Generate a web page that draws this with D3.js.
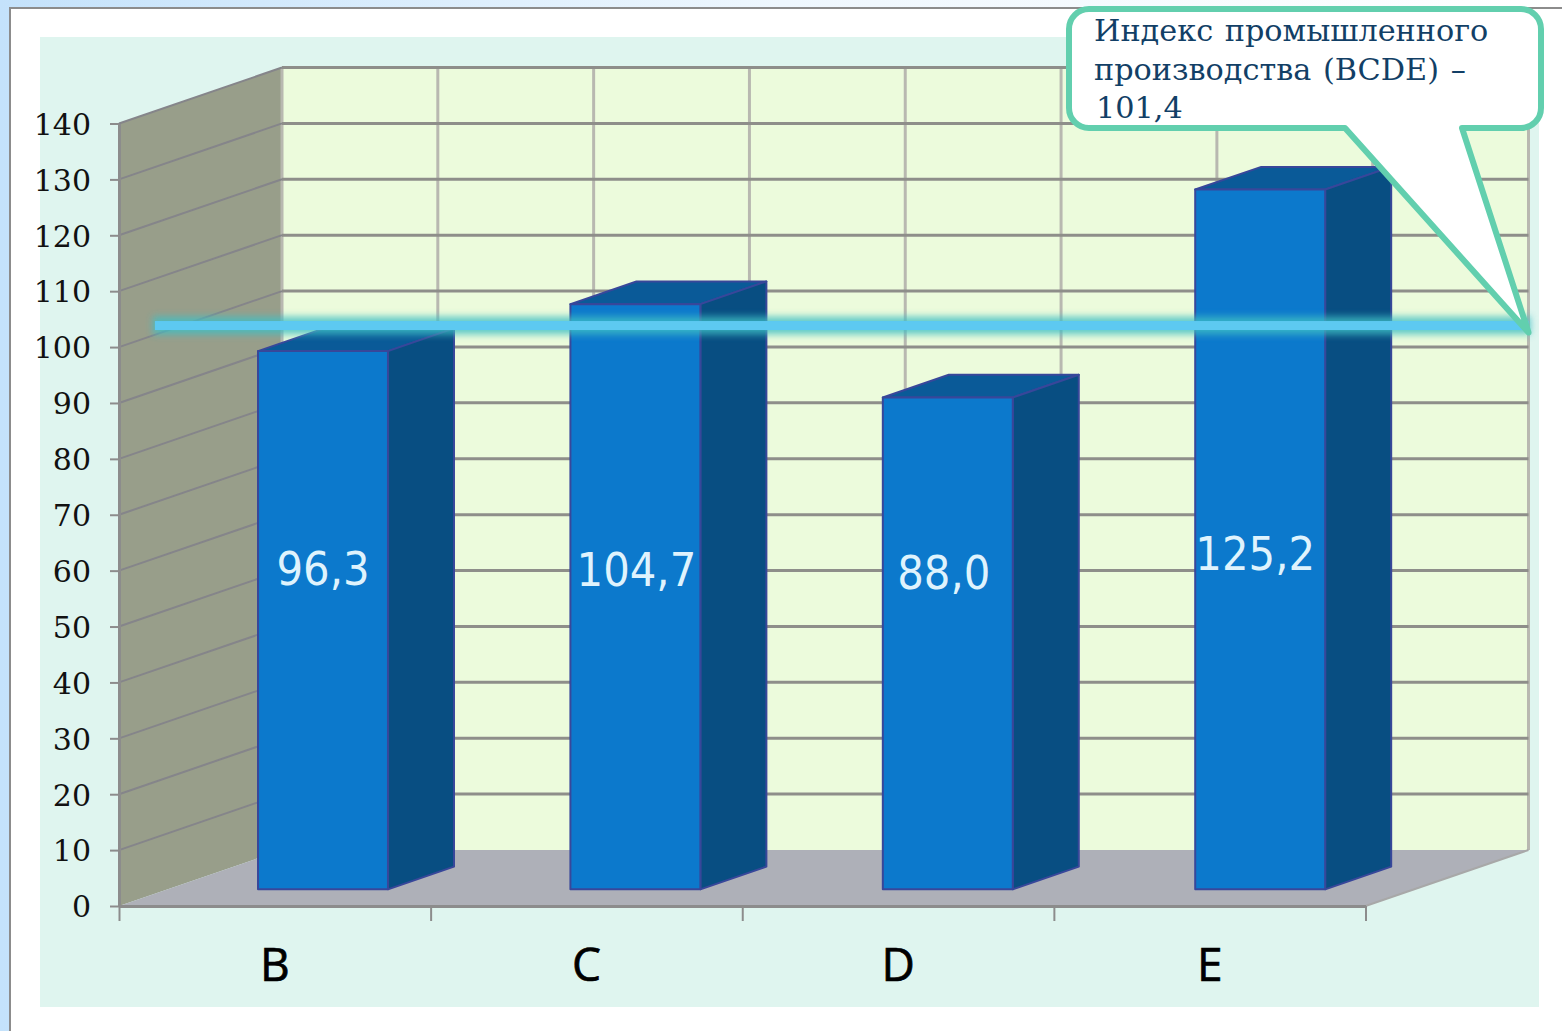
<!DOCTYPE html>
<html>
<head>
<meta charset="utf-8">
<script src="https://cdn.jsdelivr.net/npm/d3@7"></script>
<style>
html, body { margin: 0; padding: 0; background: #fff; }
svg { display: block; }
</style>
</head>
<body>
<svg class="main"></svg>
<script>
var categories = ["B", "C", "D", "E"];
var values = [96.3, 104.7, 88.0, 125.2];
var valueLabels = ["96,3", "104,7", "88,0", "125,2"];
var yTicks = [0, 10, 20, 30, 40, 50, 60, 70, 80, 90, 100, 110, 120, 130, 140];
var indexValue = 101.4;
var calloutLines = ["Индекс промышленного", "производства (BCDE) –", "101,4"];

var width = 1562,
    height = 1031,
    depthX = 163,
    depthY = 56,
    barZ0 = 0.2975,
    barZ1 = 0.7025,
    lineZ = 0.245;

// hand placed in the original, not tied to the bar height
var labelCenterY = [568, 569, 572, 553],
    labelShiftX = [0, 1, -4, -5],
    calloutShiftX = [0, 0, 2];

var main = d3.select(".main")
    .attr("width", width)
    .attr("height", height);

var defs = main.append("defs");

var bgGrad = defs.append("linearGradient")
    .attr("id", "bg")
    .attr("x1", 0).attr("y1", 0).attr("x2", 1).attr("y2", 0);
bgGrad.append("stop").attr("offset", "0").attr("stop-color", "#c4e2fb");
bgGrad.append("stop").attr("offset", "0.5").attr("stop-color", "#eef7fe");
bgGrad.append("stop").attr("offset", "1").attr("stop-color", "#ffffff");

defs.append("filter")
    .attr("id", "glow")
    .attr("x", "-2%").attr("y", "-300%").attr("width", "104%").attr("height", "700%")
    .append("feGaussianBlur")
    .attr("stdDeviation", 3.5);

var y = d3.scaleLinear().domain([0, 140]).range([906, 123.5]);
var x = d3.scaleBand()
    .domain(categories)
    .range([119, 1365.5])
    .paddingInner(0.58)
    .paddingOuter(0.29);
// bars sit on a slightly wider step than the axis in the original
var xBar = d3.scaleBand()
    .domain(categories)
    .range([118.3, 1367.9])
    .paddingInner(0.584)
    .paddingOuter(0.292);
var xEdge = d3.scaleLinear().domain([0, categories.length]).range([119, 1365.5]);

// 3d projection: z 0 is the front of the floor, z 1 the back wall
function px(xv, z) { return xv + z * depthX; }
function py(v, z) { return y(v) - z * depthY; }
function pt(xv, v, z) { return px(xv, z) + "," + py(v, z); }

// page
main.append("rect").attr("width", width).attr("height", height).attr("fill", "url(#bg)");
main.append("rect")
    .attr("x", 10).attr("y", 8)
    .attr("width", width).attr("height", height)
    .attr("fill", "#fff")
    .attr("stroke", "#8c8c8c")
    .attr("stroke-width", 2);
main.append("rect")
    .attr("x", 40).attr("y", 37)
    .attr("width", 1499).attr("height", 970)
    .attr("fill", "#dff5ef");

var x0 = xEdge(0), x1 = xEdge(categories.length), yMax = 140;

// back wall, side wall, floor
main.append("polygon")
    .attr("points", [pt(x0, 0, 1), pt(x1, 0, 1), pt(x1, yMax, 1), pt(x0, yMax, 1)].join(" "))
    .attr("fill", "#ecfbdc");
main.append("polygon")
    .attr("points", [pt(x0, 0, 0), pt(x0, 0, 1), pt(x0, yMax, 1), pt(x0, yMax, 0)].join(" "))
    .attr("fill", "#989e8a");
main.append("polygon")
    .attr("points", [pt(x0, 0, 0), pt(x1, 0, 0), pt(x1, 0, 1), pt(x0, 0, 1)].join(" "))
    .attr("fill", "#aeb0b8");

// gridlines
var grid = main.append("g").attr("fill", "none");
grid.selectAll("line.v")
    .data(d3.range(0, categories.length + 0.5, 0.5))
    .join("line")
    .attr("class", "v")
    .attr("x1", function(d) { return px(xEdge(d), 1); })
    .attr("x2", function(d) { return px(xEdge(d), 1); })
    .attr("y1", py(0, 1))
    .attr("y2", py(yMax, 1))
    .attr("stroke", "#b8b8b0")
    .attr("stroke-width", 3);
grid.selectAll("line.h")
    .data(yTicks.slice(1))
    .join("line")
    .attr("class", "h")
    .attr("x1", px(x0, 1))
    .attr("x2", px(x1, 1))
    .attr("y1", function(d) { return py(d, 1); })
    .attr("y2", function(d) { return py(d, 1); })
    .attr("stroke", "#8e8e8a")
    .attr("stroke-width", 3);
grid.selectAll("line.side")
    .data(yTicks.slice(1))
    .join("line")
    .attr("class", "side")
    .attr("x1", px(x0, 0))
    .attr("x2", px(x0, 1))
    .attr("y1", function(d) { return py(d, 0); })
    .attr("y2", function(d) { return py(d, 1); })
    .attr("stroke", "#85858a")
    .attr("stroke-width", 2);
grid.append("line")
    .attr("x1", px(x1, 0)).attr("y1", py(0, 0))
    .attr("x2", px(x1, 1)).attr("y2", py(0, 1))
    .attr("stroke", "#a8a8a8")
    .attr("stroke-width", 2);

// bars
var bars = main.selectAll("g.bar")
    .data(categories.map(function(c, i) { return { cat: c, value: values[i] }; }))
    .join("g")
    .attr("class", "bar")
    .attr("stroke", "#38479a")
    .attr("stroke-width", 2)
    .attr("stroke-linejoin", "round");

bars.append("polygon")
    .attr("fill", "#0a5a98")
    .attr("points", function(d) {
        var a = xBar(d.cat), b = a + xBar.bandwidth();
        return [pt(a, d.value, barZ0), pt(b, d.value, barZ0), pt(b, d.value, barZ1), pt(a, d.value, barZ1)].join(" ");
    });
bars.append("polygon")
    .attr("fill", "#084e82")
    .attr("points", function(d) {
        var b = xBar(d.cat) + xBar.bandwidth();
        return [pt(b, 0, barZ0), pt(b, 0, barZ1), pt(b, d.value, barZ1), pt(b, d.value, barZ0)].join(" ");
    });
bars.append("polygon")
    .attr("fill", "#0c79cc")
    .attr("points", function(d) {
        var a = xBar(d.cat), b = a + xBar.bandwidth();
        return [pt(a, 0, barZ0), pt(b, 0, barZ0), pt(b, d.value, barZ0), pt(a, d.value, barZ0)].join(" ");
    });

bars.append("text")
    .text(function(d, i) { return valueLabels[i]; })
    .attr("x", function(d, i) { return px(xBar(d.cat) + xBar.bandwidth() / 2, barZ0) + labelShiftX[i]; })
    .attr("y", function(d, i) { return labelCenterY[i]; })
    .attr("dy", "0.36em")
    .attr("text-anchor", "middle")
    .attr("stroke", "none")
    .attr("fill", "#dff3fd")
    .style("font-family", "'DejaVu Sans Condensed', 'Noto Sans', sans-serif")
    .style("font-size", "46.5px");

// axes
var yAxis = main.append("g")
    .attr("transform", "translate(" + x0 + ",0)")
    .call(d3.axisLeft(y).tickValues(yTicks).tickSize(9).tickPadding(19).tickSizeOuter(0));
yAxis.selectAll("text")
    .attr("dy", "0.36em")
    .style("font-family", "'DejaVu Serif', serif")
    .style("font-size", "30px")
    .attr("fill", "#111");
yAxis.selectAll("line").attr("stroke", "#8c8c8c").attr("stroke-width", 2);
yAxis.select(".domain").attr("stroke", "#8c8c8c").attr("stroke-width", 3);

var xTicks = main.append("g")
    .attr("transform", "translate(0," + y(0) + ")")
    .call(d3.axisBottom(xEdge).tickValues(d3.range(0, categories.length + 1)).tickSize(15).tickFormat("").tickSizeOuter(0));
xTicks.selectAll("line").attr("stroke", "#8c8c8c").attr("stroke-width", 2);
xTicks.select(".domain").attr("stroke", "#8c8c8c").attr("stroke-width", 3);

var xLabels = main.append("g")
    .attr("transform", "translate(0," + y(0) + ")")
    .call(d3.axisBottom(x).tickSize(0).tickPadding(42));
xLabels.select(".domain").remove();
xLabels.selectAll("text")
    .style("font-family", "'Open Sans', sans-serif")
    .style("font-size", "46px")
    .attr("fill", "#000")
    .attr("stroke", "#000")
    .attr("stroke-width", 0.7);

// index line with its glow
var lineX0 = px(x0, lineZ) - 4,
    lineX1 = px(x1, 1),
    lineY = py(indexValue, lineZ);
main.append("rect")
    .attr("x", lineX0 - 2).attr("y", lineY - 9)
    .attr("width", lineX1 - lineX0 + 4).attr("height", 18)
    .attr("fill", "#3fbfc4")
    .attr("opacity", 0.8)
    .attr("filter", "url(#glow)");
main.append("rect")
    .attr("x", lineX0).attr("y", lineY - 4.5)
    .attr("width", lineX1 - lineX0).attr("height", 9)
    .attr("fill", "#5dc9f1");

// callout
var cL = 1069, cR = 1541, cT = 9, cB = 128, r = 20;
var tipX = lineX1, tipY = lineY + 7;
var callout = d3.path();
callout.moveTo(cL + r, cT);
callout.lineTo(cR - r, cT);
callout.arcTo(cR, cT, cR, cT + r, r);
callout.lineTo(cR, cB - r);
callout.arcTo(cR, cB, cR - r, cB, r);
callout.lineTo(1462, cB);
callout.lineTo(tipX, tipY);
callout.lineTo(1345, cB);
callout.lineTo(cL + r, cB);
callout.arcTo(cL, cB, cL, cB - r, r);
callout.lineTo(cL, cT + r);
callout.arcTo(cL, cT, cL + r, cT, r);
callout.closePath();
main.append("path")
    .attr("d", callout.toString())
    .attr("fill", "#fff")
    .attr("stroke", "#62cfae")
    .attr("stroke-width", 6)
    .attr("stroke-linejoin", "round");

main.append("g")
    .selectAll("text")
    .data(calloutLines)
    .join("text")
    .text(function(d) { return d; })
    .attr("x", function(d, i) { return 1094 + calloutShiftX[i]; })
    .attr("y", function(d, i) { return 41 + i * 38.5; })
    .attr("fill", "#123f66")
    .style("font-family", "'DejaVu Serif', serif")
    .style("font-size", "30.3px")
    .style("word-spacing", "2px");
</script>
</body>
</html>
